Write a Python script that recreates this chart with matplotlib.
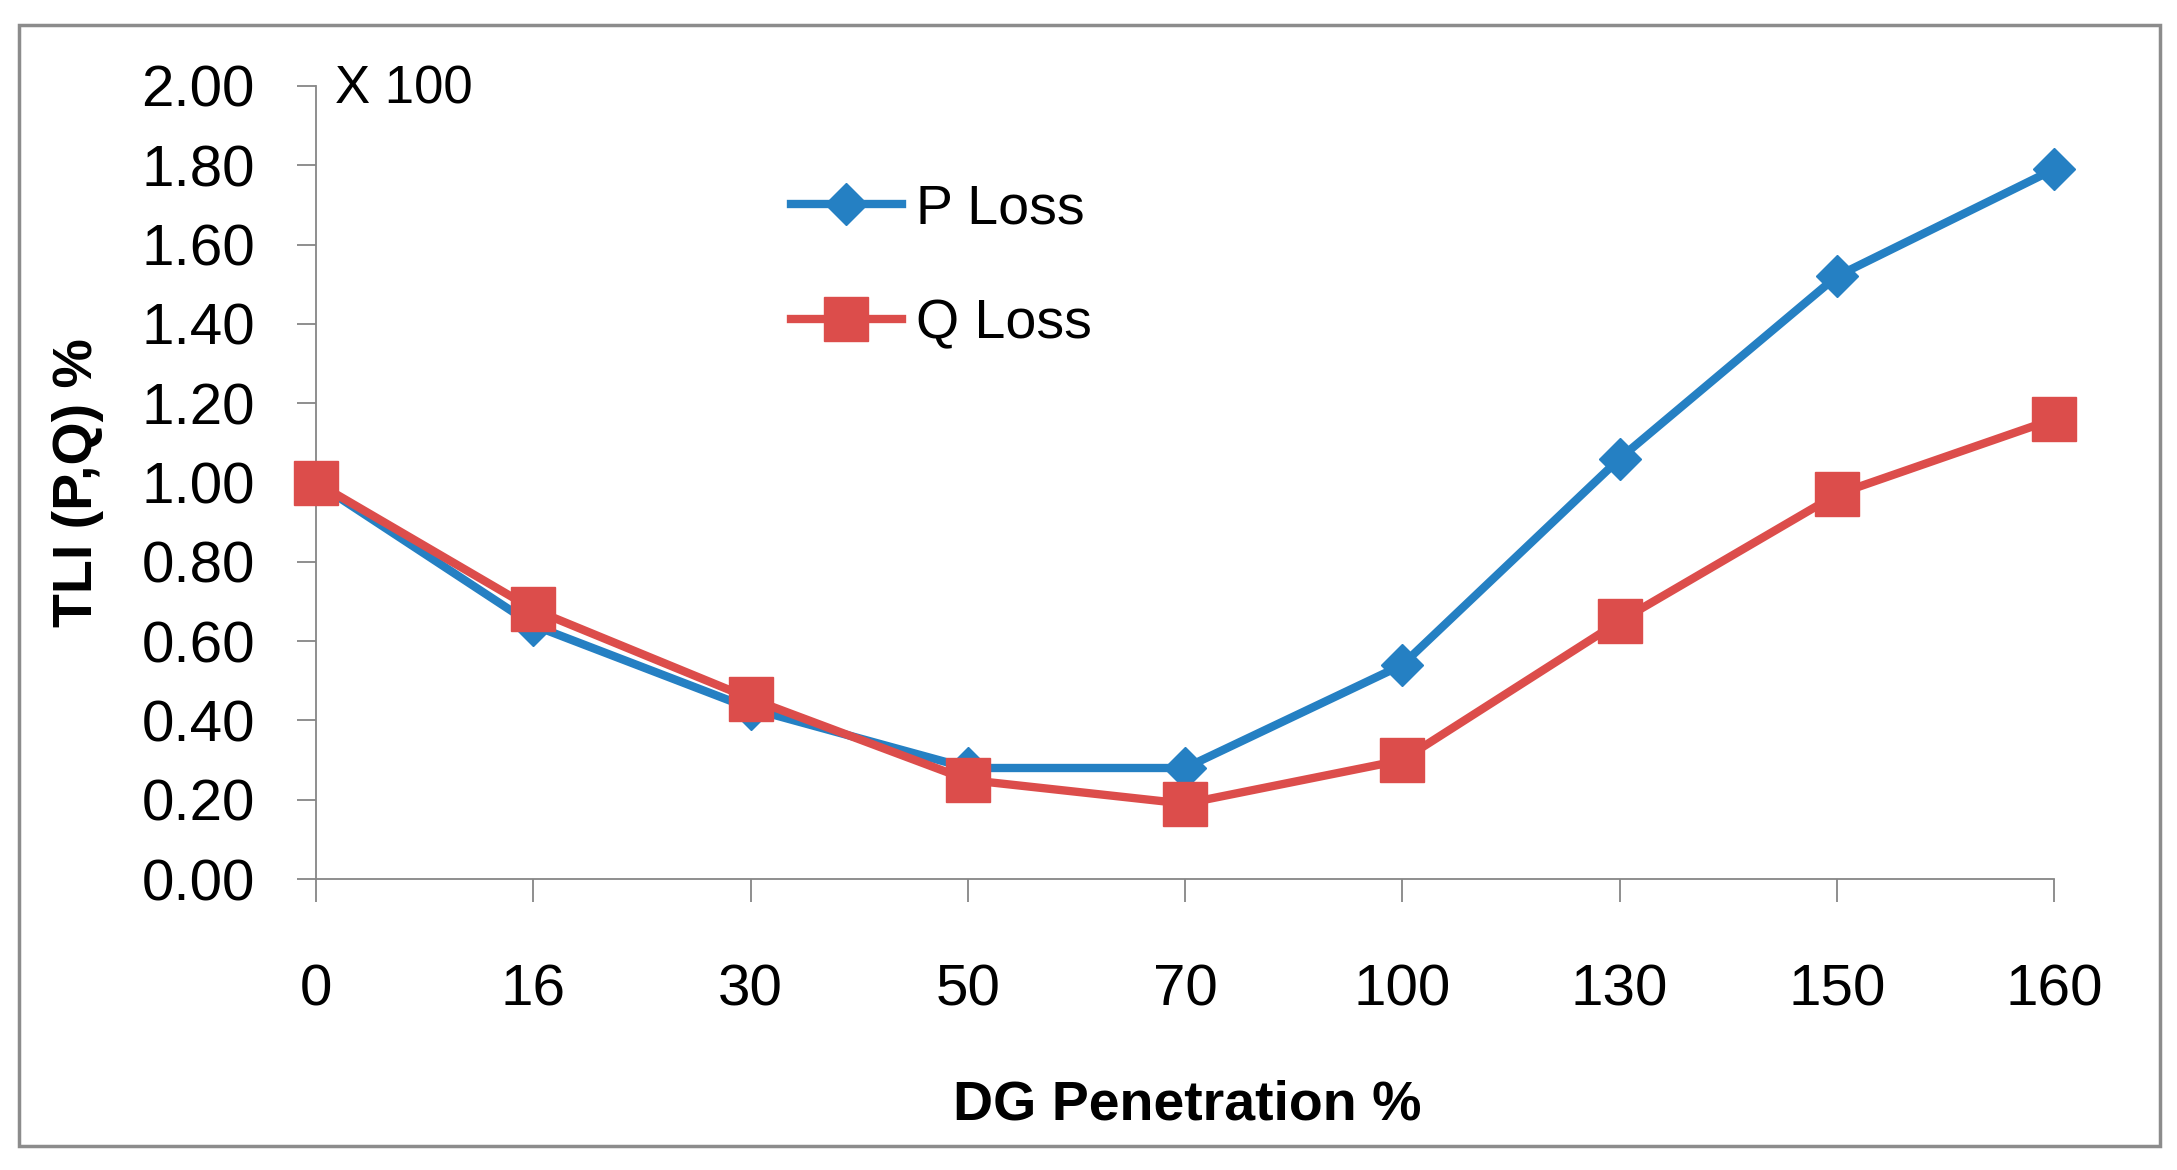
import numpy as np
import matplotlib
matplotlib.use("Agg")
import matplotlib.pyplot as plt
from matplotlib.patches import Rectangle

plt.rcParams['font.family'] = ['Liberation Sans', 'DejaVu Sans']

# data
penetration = ['0', '16', '30', '50', '70', '100', '130', '150', '160']
p_loss = [1.00, 0.64, 0.43, 0.28, 0.28, 0.54, 1.06, 1.52, 1.79]
q_loss = [1.00, 0.68, 0.455, 0.25, 0.19, 0.30, 0.65, 0.97, 1.16]
y_ticks = [0.0, 0.2, 0.4, 0.6, 0.8, 1.0, 1.2, 1.4, 1.6, 1.8, 2.0]

blue = '#2580C3'
red = '#DC4D4B'
grey = '#868686'

fig = plt.figure(figsize=(21.77, 11.70), dpi=100)
ax = fig.add_axes([0.1452, 0.2487, 0.7983, 0.6778])

x = np.arange(len(penetration))
ax.plot(x, p_loss, color=blue, lw=6, marker='D', ms=21, label='P Loss',
        clip_on=False, zorder=3)
ax.plot(x, q_loss, color=red, lw=6, marker='s', ms=31, label='Q Loss',
        clip_on=False, zorder=4)

ax.set_xlim(0, len(penetration) - 1)
ax.set_ylim(0, 2.0)
ax.set_xticks(x)
ax.set_xticklabels(penetration)
ax.set_yticks(y_ticks)
ax.set_yticklabels([f'{v:.2f}' for v in y_ticks])

for s in ['top', 'right']:
    ax.spines[s].set_visible(False)
for s in ['left', 'bottom']:
    ax.spines[s].set_color(grey)
    ax.spines[s].set_linewidth(1.3)

ax.tick_params(axis='y', direction='out', length=14, width=1.3, color=grey,
               pad=30, labelsize=42)
ax.tick_params(axis='x', direction='out', length=16.5, width=1.3, color=grey,
               pad=44, labelsize=42)

ax.set_ylabel('TLI (P,Q) %', fontsize=40, fontweight='bold')
ax.yaxis.set_label_coords(-0.122, 0.5)
ax.set_xlabel('DG Penetration %', fontsize=40, fontweight='bold')
ax.xaxis.label.set_va('center')
ax.xaxis.set_label_coords(0.501, -0.286)

ax.text(0.011, 0.995, 'X 100', transform=ax.transAxes, fontsize=38,
        va='center', ha='left')

ax.legend(loc='upper left', bbox_to_anchor=(0.273, 0.877), frameon=False,
          fontsize=40, handlelength=2.0, handletextpad=0.25, labelspacing=1.13,
          borderpad=0, borderaxespad=0, numpoints=1)

fig.patches.append(Rectangle((0.0087, 0.0205), 0.9835, 0.9581,
                             transform=fig.transFigure, fill=False,
                             edgecolor='#8C8C8C', lw=2.5))

fig.savefig('out.png', dpi=100)
